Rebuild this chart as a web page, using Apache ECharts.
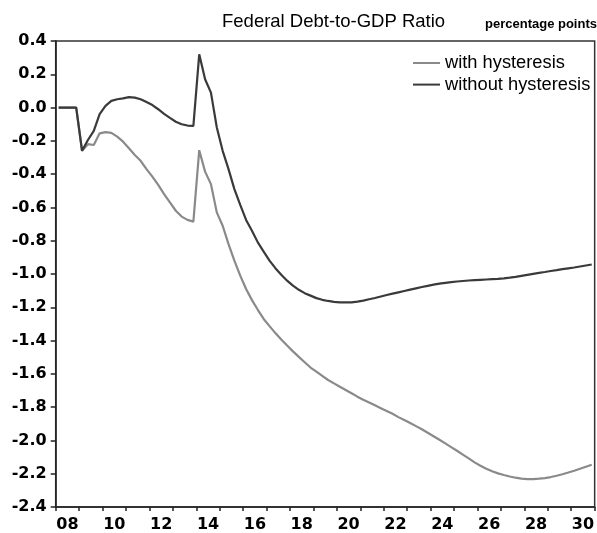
<!DOCTYPE html>
<html>
<head>
<meta charset="utf-8">
<script src="https://cdn.jsdelivr.net/npm/echarts@6/dist/echarts.min.js"></script>
<style>html,body{margin:0;padding:0;background:#fff;}#chart{width:597px;height:533px;}</style>
</head>
<body>
<div id="chart"></div>
<script>
// Quarterly observations, 2008Q1 .. 2030Q4
var startYear = 2008;
var yearLabels = ['08','09','10','11','12','13','14','15','16','17','18','19','20','21','22','23','24','25','26','27','28','29','30'];
var yTicks = [0.4,0.2,0.0,-0.2,-0.4,-0.6,-0.8,-1.0,-1.2,-1.4,-1.6,-1.8,-2.0,-2.2,-2.4];

var withHysteresis = [
  0, 0, 0, 0,
  -0.26, -0.22, -0.225, -0.155,
  -0.148, -0.152, -0.175, -0.205,
  -0.245, -0.285, -0.32, -0.37,
  -0.415, -0.465, -0.52, -0.57,
  -0.62, -0.655, -0.675, -0.685,
  -0.256, -0.385, -0.46, -0.63,
  -0.71, -0.82, -0.92, -1.01,
  -1.09, -1.157, -1.215, -1.27,
  -1.313, -1.355, -1.394, -1.43,
  -1.465, -1.498, -1.53, -1.562,
  -1.587, -1.612, -1.637, -1.657,
  -1.677, -1.697, -1.717, -1.737,
  -1.755, -1.772, -1.789, -1.806,
  -1.823, -1.84, -1.86, -1.877,
  -1.895, -1.914, -1.933, -1.954,
  -1.975, -1.996, -2.018, -2.04,
  -2.062, -2.085, -2.108, -2.132,
  -2.152, -2.17, -2.185, -2.198,
  -2.208, -2.217, -2.224, -2.229,
  -2.232, -2.232, -2.23, -2.226,
  -2.22, -2.212, -2.203, -2.193,
  -2.182, -2.17, -2.158, -2.146
];

var withoutHysteresis = [
  0, 0, 0, 0,
  -0.26, -0.195, -0.14, -0.04,
  0.01, 0.04, 0.05, 0.055,
  0.063, 0.06, 0.05, 0.033,
  0.015, -0.01, -0.038, -0.062,
  -0.085, -0.1, -0.108, -0.11,
  0.32, 0.17, 0.09, -0.12,
  -0.26, -0.37, -0.49, -0.585,
  -0.675, -0.74, -0.81, -0.865,
  -0.92, -0.965, -1.005, -1.04,
  -1.07, -1.095, -1.115, -1.13,
  -1.145, -1.155, -1.162, -1.167,
  -1.17, -1.171, -1.17, -1.166,
  -1.16, -1.152, -1.144, -1.135,
  -1.126, -1.118, -1.11, -1.102,
  -1.094, -1.086, -1.078, -1.071,
  -1.064, -1.058, -1.053, -1.049,
  -1.045, -1.042, -1.039, -1.037,
  -1.035, -1.033, -1.031, -1.029,
  -1.026, -1.022, -1.017, -1.011,
  -1.005, -0.999, -0.993, -0.988,
  -0.982, -0.977, -0.971, -0.966,
  -0.961, -0.955, -0.949, -0.943
];

function toPairs(arr) {
  return arr.map(function (v, i) { return [startYear + (i + 0.5) / 4, v]; });
}

var FONT = '"Liberation Sans", Arial, sans-serif';
var TICKFONT = '"DejaVu Sans", "Liberation Sans", sans-serif';
var chart = echarts.init(document.getElementById('chart'), null, {renderer: 'canvas'});
var gridLeft = 55.7, gridTop = 41, gridW = 542.8, gridH = 466.5;

chart.setOption({
  animation: false,
  backgroundColor: '#ffffff',
  title: [
    {text: 'Federal Debt-to-GDP Ratio', left: 217, top: 7,
     textStyle: {fontFamily: FONT, fontSize: 18.5, fontWeight: 'normal', color: '#000'}},
    {text: 'percentage points', left: 480, top: 13,
     textStyle: {fontFamily: FONT, fontSize: 13, fontWeight: 'bold', color: '#000'}}
  ],
  legend: {
    orient: 'vertical', left: 413, top: 54, itemWidth: 27, itemHeight: 2, itemGap: 3.6,
    icon: 'rect', padding: 0,
    textStyle: {fontFamily: FONT, fontSize: 18.3, color: '#000'},
    data: ['with hysteresis', 'without hysteresis']
  },
  grid: {left: gridLeft, top: gridTop, width: gridW, height: gridH, show: true,
         borderColor: '#333', borderWidth: 1.5, containLabel: false},
  xAxis: [
    {type: 'value', min: startYear, max: startYear + yearLabels.length, interval: 1,
     axisLine: {show: true, onZero: false, lineStyle: {color: '#222', width: 1.5}},
     axisTick: {show: true, inside: false, length: 4, lineStyle: {color: '#222', width: 1.5}},
     axisLabel: {show: false}, splitLine: {show: false}},
    {type: 'category', data: yearLabels, boundaryGap: true, position: 'bottom',
     axisLine: {show: false}, axisTick: {show: false}, splitLine: {show: false},
     axisLabel: {interval: 1, margin: 10, fontFamily: TICKFONT, fontSize: 16, fontWeight: 'bold', color: '#000'}}
  ],
  yAxis: {type: 'value', min: yTicks[yTicks.length - 1], max: yTicks[0], interval: 0.2,
    axisLine: {show: true, lineStyle: {color: '#222', width: 1.5}},
    axisTick: {show: true, inside: false, length: 5, lineStyle: {color: '#222', width: 1.5}},
    splitLine: {show: false},
    axisLabel: {margin: 9, fontFamily: TICKFONT, fontSize: 16, fontWeight: 'bold', color: '#000',
      formatter: function (v) { return (Math.round(v * 10) / 10).toFixed(1); }}},
  series: [
    {name: 'with hysteresis', type: 'line', xAxisIndex: 0, data: toPairs(withHysteresis),
     showSymbol: false, symbol: 'none', color: '#8a8a8a', lineStyle: {width: 2.2, color: '#8a8a8a'}},
    {name: 'without hysteresis', type: 'line', xAxisIndex: 0, data: toPairs(withoutHysteresis),
     showSymbol: false, symbol: 'none', color: '#3a3a3a', lineStyle: {width: 2.2, color: '#3a3a3a'}}
  ]
});
</script>
</body>
</html>
